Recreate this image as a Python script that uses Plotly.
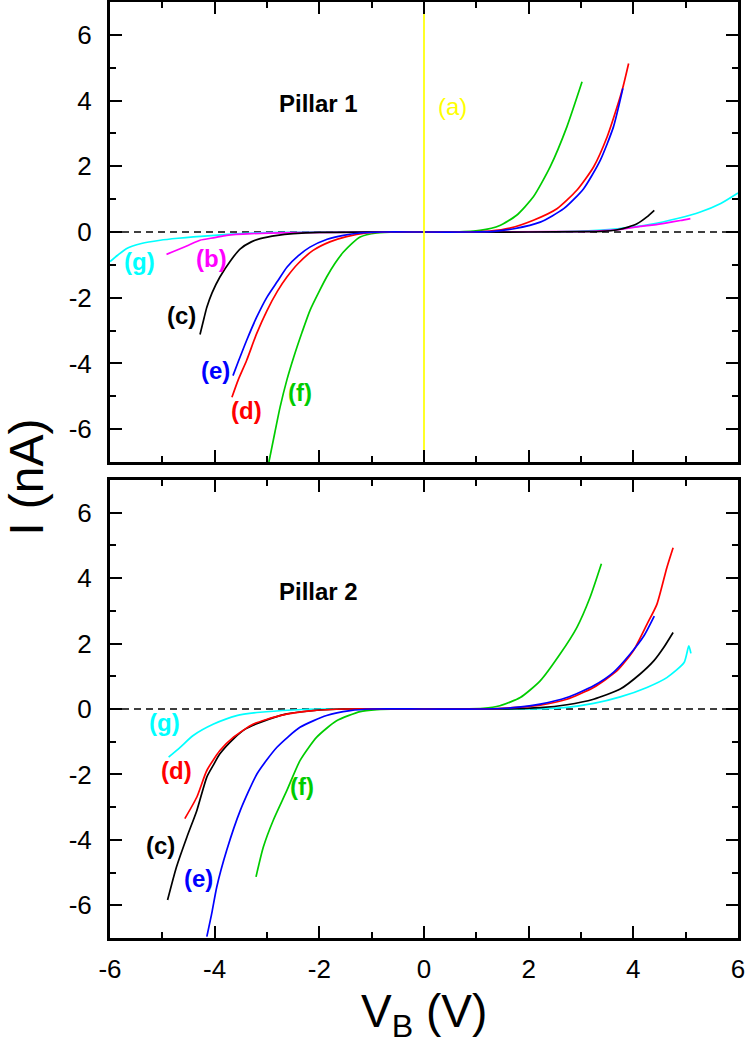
import plotly.graph_objects as go

# ---------------- data: Pillar 1 (top) ----------------
p1_a_x = [0.0, 0.0]
p1_a_y = [-7.0, 7.0]

p1_b_x = [-4.92, -4.8, -4.66, -4.5, -4.28, -4.0, -3.77, -3.3, -2.5, -1.0, 0.0, 1.0, 2.5, 3.3, 3.7, 4.13, 4.4, 4.64, 4.9, 5.09]
p1_b_y = [-0.68, -0.6, -0.51, -0.4, -0.25, -0.17, -0.1, -0.05, -0.02, 0.0, 0.0, 0.0, 0.01, 0.03, 0.07, 0.17, 0.22, 0.28, 0.35, 0.41]

p1_c_x = [-4.28, -4.2, -4.15, -4.05, -3.9, -3.7, -3.51, -3.3, -3.13, -2.8, -2.5, -2.0, -1.0, 0.0, 1.0, 2.0, 3.0, 3.4, 3.7, 3.9, 4.07, 4.26, 4.4]
p1_c_y = [-3.12, -2.6, -2.29, -1.85, -1.37, -0.88, -0.51, -0.3, -0.2, -0.1, -0.05, -0.01, 0.0, 0.0, 0.0, 0.0, 0.01, 0.02, 0.07, 0.15, 0.25, 0.46, 0.66]

p1_d_x = [-3.67, -3.55, -3.39, -3.2, -3.0, -2.8, -2.62, -2.4, -2.12, -1.8, -1.48, -1.1, -0.7, 0.0, 0.8, 1.26, 1.64, 2.09, 2.54, 2.92, 3.24, 3.5, 3.69, 3.8, 3.91]
p1_d_y = [-5.03, -4.5, -3.91, -3.1, -2.39, -1.8, -1.37, -0.95, -0.56, -0.3, -0.14, -0.03, 0.0, 0.0, 0.0, 0.03, 0.12, 0.36, 0.71, 1.27, 1.98, 2.9, 3.81, 4.4, 5.13]

p1_e_x = [-3.65, -3.55, -3.39, -3.2, -3.0, -2.8, -2.62, -2.4, -2.18, -1.85, -1.54, -1.22, -0.8, 0.0, 0.9, 1.33, 1.72, 2.22, 2.67, 3.05, 3.37, 3.62, 3.8]
p1_e_y = [-4.37, -3.95, -3.3, -2.6, -1.98, -1.5, -1.07, -0.72, -0.46, -0.22, -0.1, -0.03, 0.0, 0.0, 0.0, 0.02, 0.1, 0.3, 0.71, 1.32, 2.19, 3.2, 4.37]

p1_f_x = [-2.97, -2.85, -2.75, -2.62, -2.49, -2.33, -2.18, -2.0, -1.86, -1.7, -1.54, -1.38, -1.22, -0.9, -0.5, 0.0, 0.6, 1.07, 1.45, 1.77, 2.09, 2.41, 2.73, 3.02]
p1_f_y = [-7.05, -6.1, -5.33, -4.5, -3.81, -3.05, -2.39, -1.8, -1.37, -0.95, -0.61, -0.35, -0.15, -0.03, 0.0, 0.0, 0.0, 0.05, 0.2, 0.51, 1.07, 1.98, 3.2, 4.57]

p1_g_x = [-6.0, -5.85, -5.68, -5.4, -5.04, -4.7, -4.41, -4.0, -3.5, -3.0, -2.0, 0.0, 2.0, 3.06, 3.7, 4.33, 4.84, 5.28, 5.67, 6.0]
p1_g_y = [-0.9, -0.7, -0.5, -0.35, -0.25, -0.19, -0.15, -0.1, -0.05, -0.02, 0.0, 0.0, 0.0, 0.03, 0.1, 0.23, 0.41, 0.61, 0.87, 1.19]

# ---------------- data: Pillar 2 (bottom) ----------------
p2_c_x = [-4.9, -4.73, -4.53, -4.34, -4.15, -4.02, -3.9, -3.64, -3.4, -3.13, -2.62, -2.0, -1.5, 0.0, 1.5, 2.22, 2.73, 3.24, 3.75, 4.13, 4.39, 4.58, 4.76]
p2_c_y = [-5.84, -4.83, -3.91, -3.1, -2.08, -1.7, -1.37, -0.91, -0.6, -0.41, -0.15, -0.03, 0.0, 0.0, 0.0, 0.04, 0.13, 0.3, 0.61, 1.07, 1.47, 1.88, 2.34]

p2_d_x = [-4.57, -4.34, -4.15, -3.9, -3.64, -3.26, -2.75, -2.12, -1.5, 0.0, 1.2, 1.77, 2.22, 2.73, 3.24, 3.69, 4.0, 4.26, 4.45, 4.64, 4.76]
p2_d_y = [-3.35, -2.69, -1.88, -1.27, -0.86, -0.46, -0.2, -0.05, 0.0, 0.0, 0.0, 0.05, 0.12, 0.3, 0.66, 1.17, 1.78, 2.59, 3.2, 4.32, 4.93]

p2_e_x = [-4.15, -4.05, -3.96, -3.77, -3.51, -3.19, -2.81, -2.37, -1.86, -1.41, -1.0, 0.0, 1.2, 1.71, 2.22, 2.73, 3.24, 3.62, 3.94, 4.2, 4.4]
p2_e_y = [-6.96, -6.2, -5.44, -4.32, -3.1, -1.98, -1.17, -0.56, -0.2, -0.05, 0.0, 0.0, 0.0, 0.04, 0.15, 0.35, 0.71, 1.12, 1.68, 2.23, 2.84]

p2_f_x = [-3.21, -3.07, -2.88, -2.62, -2.37, -2.05, -1.67, -1.22, -0.9, -0.5, 0.0, 0.7, 1.13, 1.45, 1.84, 2.22, 2.6, 2.92, 3.17, 3.39]
p2_f_y = [-5.13, -4.22, -3.4, -2.49, -1.58, -0.86, -0.36, -0.08, -0.02, 0.0, 0.0, 0.0, 0.02, 0.1, 0.35, 0.86, 1.68, 2.49, 3.4, 4.44]

p2_g_x = [-4.88, -4.66, -4.41, -4.02, -3.58, -3.13, -2.5, -2.0, 0.0, 2.0, 2.73, 3.24, 3.75, 4.26, 4.64, 4.97, 5.06, 5.1]
p2_g_y = [-1.47, -1.17, -0.81, -0.46, -0.2, -0.1, -0.03, 0.0, 0.0, 0.0, 0.05, 0.17, 0.37, 0.66, 0.96, 1.42, 1.93, 1.7]

# ---------------- curve labels ----------------
p1_label_text = ["(a)", "(b)", "(c)", "(d)", "(e)", "(f)", "(g)"]
p1_label_x = [0.54, -4.06, -4.63, -3.39, -3.99, -2.37, -5.43]
p1_label_y = [3.81, -0.8, -2.54, -5.44, -4.22, -4.88, -0.91]

p2_label_text = ["(c)", "(d)", "(e)", "(f)", "(g)"]
p2_label_x = [-5.04, -4.73, -4.31, -2.33, -4.95]
p2_label_y = [-4.17, -1.88, -5.18, -2.37, -0.41]

panel_titles = ["Pillar 1", "Pillar 2"]
panel_title_x = [-2.02, -2.02]
panel_title_y = [3.92, 3.6]

zero_x = [-6, 6]
zero_y = [0, 0]

x_ticks = [-6, -4, -2, 0, 2, 4, 6]
x_ticktext = ["-6", "-4", "-2", "0", "2", "4", "6"]
y_ticks = [-6, -4, -2, 0, 2, 4, 6]
y_ticktext = ["-6", "-4", "-2", "0", "2", "4", "6"]

colors = {
    "(a)": "#FFFF00",
    "(b)": "#FF00FF",
    "(c)": "#000000",
    "(d)": "#FF0000",
    "(e)": "#0000FF",
    "(f)": "#00CC00",
    "(g)": "#00FFFF",
}

FONT = "Arial, Liberation Sans, sans-serif"

fig = go.Figure()

def add_curve(x, y, key, xa, ya):
    fig.add_trace(go.Scatter(
        x=x, y=y, mode="lines", xaxis=xa, yaxis=ya,
        line=dict(color=colors[key], width=1.7, shape="spline", smoothing=0.6),
        showlegend=False, hoverinfo="skip"))

# zero dashed lines
for xa, ya in [("x", "y"), ("x2", "y2")]:
    fig.add_trace(go.Scatter(x=zero_x, y=zero_y, mode="lines", xaxis=xa, yaxis=ya,
                             line=dict(color="black", width=1.5, dash="7px,5px"),
                             showlegend=False, hoverinfo="skip"))

# top panel
add_curve(p1_g_x, p1_g_y, "(g)", "x", "y")
add_curve(p1_b_x, p1_b_y, "(b)", "x", "y")
add_curve(p1_c_x, p1_c_y, "(c)", "x", "y")
add_curve(p1_f_x, p1_f_y, "(f)", "x", "y")
add_curve(p1_d_x, p1_d_y, "(d)", "x", "y")
add_curve(p1_e_x, p1_e_y, "(e)", "x", "y")
fig.add_trace(go.Scatter(x=p1_a_x, y=p1_a_y, mode="lines", xaxis="x", yaxis="y",
                         line=dict(color=colors["(a)"], width=1.7),
                         showlegend=False, hoverinfo="skip"))

# bottom panel
add_curve(p2_g_x, p2_g_y, "(g)", "x2", "y2")
add_curve(p2_f_x, p2_f_y, "(f)", "x2", "y2")
add_curve(p2_c_x, p2_c_y, "(c)", "x2", "y2")
add_curve(p2_d_x, p2_d_y, "(d)", "x2", "y2")
add_curve(p2_e_x, p2_e_y, "(e)", "x2", "y2")

annotations = []
for t, x, y in zip(p1_label_text, p1_label_x, p1_label_y):
    annotations.append(dict(x=x, y=y, xref="x", yref="y", text=(t if t == "(a)" else "<b>" + t + "</b>"),
                            showarrow=False, font=dict(family=FONT, size=24, color=colors[t])))
for t, x, y in zip(p2_label_text, p2_label_x, p2_label_y):
    annotations.append(dict(x=x, y=y, xref="x2", yref="y2", text="<b>" + t + "</b>",
                            showarrow=False, font=dict(family=FONT, size=24, color=colors[t])))
for t, x, y, xr, yr in zip(panel_titles, panel_title_x, panel_title_y, ["x", "x2"], ["y", "y2"]):
    annotations.append(dict(x=x, y=y, xref=xr, yref=yr, text="<b>" + t + "</b>",
                            showarrow=False, font=dict(family=FONT, size=24, color="black")))

annotations.append(dict(x=-0.134, y=0.4925, xref="paper", yref="paper", text="I (nA)", textangle=-90,
                        showarrow=False, xanchor="center", yanchor="middle",
                        font=dict(family=FONT, size=48, color="black")))
annotations.append(dict(x=0.5, y=-0.082, xref="paper", yref="paper", text="V<sub>B</sub> (V)",
                        showarrow=False, xanchor="center", yanchor="middle",
                        font=dict(family=FONT, size=46, color="black")))

axis_common = dict(
    showline=True, linecolor="black", linewidth=3, mirror="allticks",
    ticks="inside", ticklen=12, tickwidth=2, tickcolor="black",
    showgrid=False, zeroline=False, automargin=False,
    tickfont=dict(family=FONT, size=26, color="black"),
    minor=dict(ticks="inside", ticklen=6, tickwidth=2, tickcolor="black", dtick=1, showgrid=False),
)

fig.update_layout(
    width=747, height=1050,
    margin=dict(l=110, r=9, t=2, b=112, autoexpand=False),
    plot_bgcolor="white", paper_bgcolor="white",
    showlegend=False,
    annotations=annotations,
    xaxis=dict(domain=[0, 1], anchor="y", range=[-6, 6], tickvals=x_ticks, ticktext=x_ticktext,
               showticklabels=False, **axis_common),
    yaxis=dict(domain=[0.5085, 1.0], anchor="x", range=[-7, 7], tickvals=y_ticks, ticktext=y_ticktext,
               ticklabelstandoff=10, **axis_common),
    xaxis2=dict(domain=[0, 1], anchor="y2", range=[-6, 6], tickvals=x_ticks, ticktext=x_ticktext,
                ticklabelstandoff=6, **axis_common),
    yaxis2=dict(domain=[0.0, 0.4893], anchor="x2", range=[-7, 7], tickvals=y_ticks, ticktext=y_ticktext,
                ticklabelstandoff=10, **axis_common),
)

fig.write_html("out.html", config={"displayModeBar": False},
               post_script="document.body.style.margin='0';document.body.style.overflow='hidden';")
